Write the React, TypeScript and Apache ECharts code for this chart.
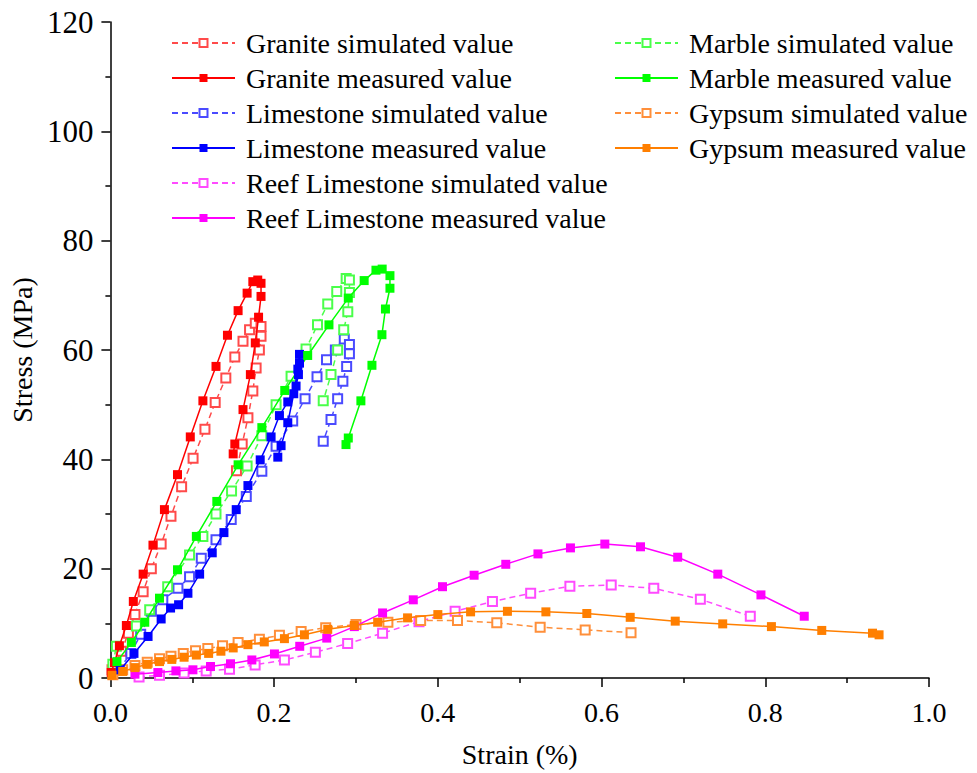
import React, { useEffect, useRef } from "react";
import * as echarts from "echarts";

// [strain %, stress MPa]
const graniteSimulated = [[0.002,1.5],[0.0134,4.9],[0.022,8.2],[0.030,11.6],[0.040,15.8],[0.050,20],[0.062,24.5],[0.074,29.6],[0.087,35],[0.101,40.2],[0.1155,45.5],[0.128,50.4],[0.141,54.9],[0.152,58.7],[0.162,61.6],[0.170,63.7],[0.177,64.9],[0.184,64.3],[0.184,62.5],[0.182,60],[0.178,56.7],[0.174,52.5],[0.168,47.6],[0.161,42.8],[0.154,37.9]];
const graniteMeasured = [[0.001,1.0],[0.005,2.8],[0.011,5.9],[0.0195,9.6],[0.028,14],[0.040,19],[0.052,24.3],[0.066,30.8],[0.082,37.2],[0.0976,44.1],[0.113,50.7],[0.129,57],[0.143,62.7],[0.156,67.2],[0.167,70.4],[0.174,72.5],[0.180,72.8],[0.184,72.2],[0.184,69.8],[0.181,66],[0.177,61.3],[0.171,55.5],[0.162,49.1],[0.152,42.8],[0.150,41]];
const limestoneSimulated = [[0.01,1.5],[0.025,4.5],[0.037,8],[0.050,12.2],[0.064,14.3],[0.0825,16.4],[0.0967,18.5],[0.111,21.9],[0.129,25.3],[0.1476,29],[0.166,33.2],[0.185,37.8],[0.2024,42.4],[0.2227,47],[0.2378,51.1],[0.2524,55.1],[0.264,58.2],[0.2748,60],[0.2857,62],[0.292,61],[0.292,59.3],[0.2886,57],[0.284,54.3],[0.2776,51.1],[0.2695,47.3],[0.260,43.3]];
const limestoneMeasured = [[0.012,1.5],[0.0288,4.5],[0.046,7.6],[0.062,10.8],[0.0735,12.8],[0.0833,13.4],[0.0947,15.5],[0.109,19],[0.1244,22.9],[0.1387,26.6],[0.1537,30.8],[0.168,35.2],[0.183,39.9],[0.1963,44.1],[0.2065,48],[0.2167,50.5],[0.2268,53.4],[0.2297,55.5],[0.231,57.6],[0.231,59.2],[0.229,56.5],[0.224,52],[0.2167,46.7],[0.2085,42.5],[0.2045,40.4]];
const reefSimulated = [[0.035,0.2],[0.06,0.5],[0.09,0.9],[0.117,1.3],[0.1455,1.6],[0.1768,2.4],[0.2126,3.3],[0.2504,4.7],[0.2898,6.3],[0.3325,8.2],[0.377,10.3],[0.4211,12.2],[0.4667,14],[0.5134,15.5],[0.5613,16.8],[0.6118,17],[0.6638,16.4],[0.7207,14.4],[0.7817,11.3]];
const reefMeasured = [[0.03,0.7],[0.058,1.0],[0.08,1.3],[0.1008,1.5],[0.1223,2.1],[0.1467,2.6],[0.1728,3.3],[0.2004,4.4],[0.2313,5.8],[0.2643,7.3],[0.298,9.4],[0.3325,11.9],[0.370,14.3],[0.4057,16.7],[0.4443,18.8],[0.483,20.8],[0.5223,22.7],[0.562,23.8],[0.604,24.5],[0.6476,24],[0.693,22.1],[0.742,19],[0.7947,15.2],[0.8476,11.3]];
const marbleSimulated = [[0.003,2.5],[0.0073,5.8],[0.0317,9.5],[0.048,12.5],[0.070,16.7],[0.0967,22.5],[0.113,25.9],[0.129,30],[0.148,34.2],[0.167,38.8],[0.185,44.3],[0.2024,50],[0.2207,55.2],[0.239,60.2],[0.253,64.6],[0.2655,68.4],[0.2765,70.7],[0.288,73.1],[0.292,72.8],[0.292,70.5],[0.290,67],[0.285,63.7],[0.2776,60],[0.2695,55.5],[0.260,50.7]];
const marbleMeasured = [[0.008,3.0],[0.0256,6.5],[0.042,10.2],[0.060,14.6],[0.082,19.8],[0.105,25.9],[0.130,32.3],[0.156,39],[0.185,45.8],[0.213,52.6],[0.241,59],[0.267,64.6],[0.2906,69.5],[0.310,72.7],[0.3244,74.6],[0.332,74.8],[0.3415,73.6],[0.3415,71.3],[0.336,67.5],[0.3317,62.8],[0.3195,57.2],[0.306,50.7],[0.2906,43.9],[0.2878,42.7]];
const gypsumSimulated = [[0.003,0.6],[0.015,1.5],[0.03,2.3],[0.045,2.9],[0.06,3.5],[0.074,4.0],[0.089,4.5],[0.104,5.0],[0.119,5.4],[0.137,5.9],[0.156,6.5],[0.182,7.1],[0.2065,7.8],[0.233,8.5],[0.263,9.2],[0.30,9.8],[0.339,10.2],[0.379,10.5],[0.424,10.5],[0.472,10.1],[0.525,9.3],[0.58,8.8],[0.636,8.3]];
const gypsumMeasured = [[0.002,0.5],[0.015,1.2],[0.03,1.9],[0.045,2.5],[0.06,3.0],[0.075,3.4],[0.09,3.8],[0.105,4.2],[0.12,4.5],[0.135,4.9],[0.15,5.5],[0.168,6.1],[0.188,6.6],[0.2126,7.2],[0.237,7.9],[0.2655,8.9],[0.298,9.6],[0.3265,10.2],[0.363,11],[0.40,11.6],[0.44,12.1],[0.485,12.2],[0.532,12.1],[0.582,11.8],[0.635,11.1],[0.69,10.4],[0.748,9.9],[0.8075,9.4],[0.869,8.7],[0.931,8.2],[0.939,7.9]];

const leftLegend = ["Granite simulated value","Granite measured value","Limestone simulated value","Limestone measured value","Reef Limestone simulated value","Reef Limestone measured value"];
const rightLegend = ["Marble simulated value","Marble measured value","Gypsum simulated value","Gypsum measured value"];

const FONT = "Liberation Serif, Times New Roman, serif";

function simSeries(name: string, data: number[][], color: string) {
  return {
    name, type: "line", data, symbol: "emptyRect", symbolSize: 9,
    lineStyle: { color, width: 1.5, type: [6, 4] },
    itemStyle: { color, borderWidth: 1.2 },
    z: 2,
  };
}
function measSeries(name: string, data: number[][], color: string) {
  return {
    name, type: "line", data, symbol: "rect", symbolSize: 9,
    lineStyle: { color, width: 1.5 },
    itemStyle: { color },
    z: 3,
  };
}

export default function App() {
  const ref = useRef<HTMLDivElement>(null);
  useEffect(() => {
    if (!ref.current) return;
    const chart = echarts.init(ref.current, undefined, { renderer: "svg" });
    const legendCommon = {
      orient: "vertical", itemWidth: 63, itemHeight: 10, itemGap: 7,
      textStyle: { fontFamily: FONT, fontSize: 28, color: "#000", lineHeight: 28, padding: [0, 0, 0, 6] },
      inactiveColor: "#ccc",
    };
    chart.setOption({
      animation: false,
      backgroundColor: "#fff",
      grid: { left: 109, right: 48, top: 22, bottom: 91, containLabel: false },
      legend: [
        { ...legendCommon, left: 166, top: 24, data: leftLegend },
        { ...legendCommon, left: 609, top: 24, data: rightLegend },
      ],
      xAxis: {
        type: "value", min: 0, max: 1, interval: 0.2,
        name: "Strain (%)", nameLocation: "middle", nameGap: 62,
        nameTextStyle: { fontFamily: FONT, fontSize: 28, color: "#000" },
        axisLine: { lineStyle: { color: "#000", width: 1.5 } },
        axisTick: { length: 9, lineStyle: { color: "#000", width: 1.5 } },
        minorTick: { show: true, splitNumber: 2, length: 5, lineStyle: { color: "#000", width: 1.5 } },
        axisLabel: { fontFamily: FONT, fontSize: 28, color: "#000", margin: 20, formatter: (v: number) => v.toFixed(1) },
        splitLine: { show: false },
      },
      yAxis: {
        type: "value", min: 0, max: 120, interval: 20,
        name: "Stress (MPa)", nameLocation: "middle", nameGap: 72,
        nameTextStyle: { fontFamily: FONT, fontSize: 28, color: "#000" },
        axisLine: { show: true, lineStyle: { color: "#000", width: 1.5 } },
        axisTick: { show: true, length: 9, lineStyle: { color: "#000", width: 1.5 } },
        minorTick: { show: true, splitNumber: 2, length: 5, lineStyle: { color: "#000", width: 1.5 } },
        axisLabel: { fontFamily: FONT, fontSize: 31, color: "#000", margin: 17 },
        splitLine: { show: false },
      },
      series: [
        simSeries("Granite simulated value", graniteSimulated, "#FF4A4A"),
        measSeries("Granite measured value", graniteMeasured, "#FF0000"),
        simSeries("Limestone simulated value", limestoneSimulated, "#4A4AFF"),
        measSeries("Limestone measured value", limestoneMeasured, "#0000FF"),
        simSeries("Reef Limestone simulated value", reefSimulated, "#FF4AFF"),
        measSeries("Reef Limestone measured value", reefMeasured, "#FF00FF"),
        simSeries("Marble simulated value", marbleSimulated, "#4AFF4A"),
        measSeries("Marble measured value", marbleMeasured, "#00FF00"),
        simSeries("Gypsum simulated value", gypsumSimulated, "#FF8F3A"),
        measSeries("Gypsum measured value", gypsumMeasured, "#FF7F00"),
      ],
    });
    return () => chart.dispose();
  }, []);
  return <div ref={ref} style={{ width: 977, height: 773, position: "absolute", left: 0, top: 0 }} />;
}
